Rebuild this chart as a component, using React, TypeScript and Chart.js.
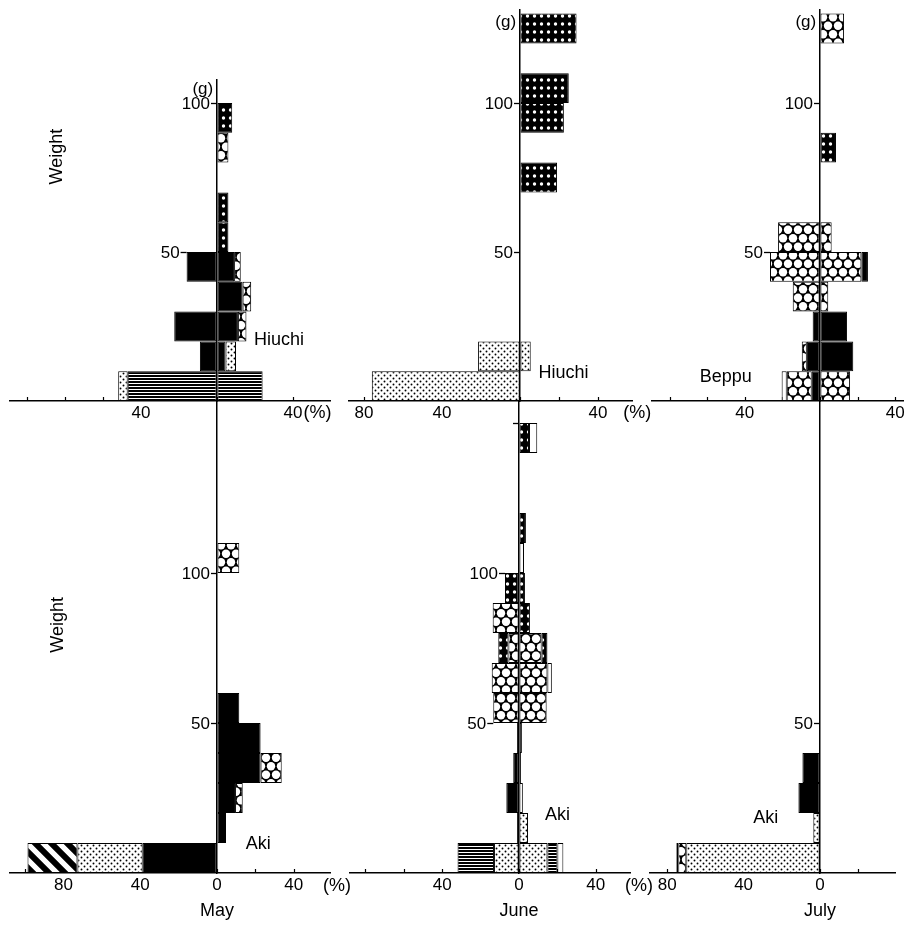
import React, { useEffect, useRef } from "react";
import { Chart, registerables } from "chart.js";

Chart.register(...registerables);

const FONT = "'Liberation Sans', Arial, Helvetica, sans-serif";
const TICK_SIZE = 17;
const LABEL_SIZE = 18;
const TICK_PAD = 2;
const AXIS_H = TICK_SIZE * 1.2 + TICK_PAD * 2;
const WEIGHT_TICK_LEN = 6;

// Weight classes are 10 g wide; index 0 = 0–10 g, index 1 = 10–20 g, ...
const CLASS_G = 10;

// Values: % of fish per weight class. "Left" layers are drawn to the left of 0.
// Layers of one side stack outward from the 0 line in the order listed.

// ---- May, Hiuchi
const mayHiuchiLeftLined = [47];
const mayHiuchiLeftBlack = [0, 9, 22.5, 0, 16];
const mayHiuchiLeftStipple = [5];
const mayHiuchiRightLined = [24];
const mayHiuchiRightBlack = [0, 4.5, 11, 13.5, 9];
const mayHiuchiRightStipple = [0, 5.5];
const mayHiuchiRightHoneycomb = [0, 0, 4.5, 4.5, 3.5, 0, 0, 0, 6];
const mayHiuchiRightSpotted = [0, 0, 0, 0, 0, 6, 6, 0, 0, 8];

// ---- June, Hiuchi
const juneHiuchiLeftStipple = [76, 21.5];
const juneHiuchiRightStipple = [0, 5.5];
const juneHiuchiRightSpotted = [0, 0, 0, 0, 0, 0, 0, 19, 0, 22.5, 25, 0, 29];

// ---- July, Beppu
const julyBeppuLeftBlack = [4.4, 7, 3.9];
const julyBeppuLeftHoneycomb = [13.3, 2.7, 0, 14.5, 26.6, 22.3];
const julyBeppuLeftWhite = [2.7];
const julyBeppuRightBlack = [0, 17.7, 14.4];
const julyBeppuRightHoneycomb = [16, 0, 0, 4.4, 22, 6.2, 0, 0, 0, 0, 0, 0, 12.8];
const julyBeppuRightBlackOuter = [0, 0, 0, 0, 3.5];
const julyBeppuRightSpotted = [0, 0, 0, 0, 0, 0, 0, 0, 8.5];

// ---- May, Aki
const mayAkiLeftBlack = [38.7];
const mayAkiLeftStipple = [34];
const mayAkiLeftHatched = [26];
const mayAkiRightBlack = [0, 4.7, 9.4, 22.7, 22.7, 11.6];
const mayAkiRightHoneycomb = [0, 0, 4, 11, 0, 0, 0, 0, 0, 0, 11.6];

// ---- June, Aki
const juneAkiLeftStipple = [13];
const juneAkiLeftLined = [19];
const juneAkiLeftBlack = [0, 1, 6.6, 3, 1];
const juneAkiLeftHoneycomb = [0, 0, 0, 0, 0, 13.4, 14.2, 5.5, 13.7];
const juneAkiLeftSpotted = [0, 0, 0, 0, 0, 0, 0, 5.3, 0, 7.3];
const juneAkiRightStipple = [14.8, 4.7];
const juneAkiRightLined = [5.2];
const juneAkiRightBlack = [0, 0, 0, 1, 1.5];
const juneAkiRightHoneycomb = [0, 0, 0, 0, 0, 14.4, 14.8, 11.8];
const juneAkiRightSpotted = [0, 0, 0, 0, 0, 0, 0, 3, 5.7, 3.1, 0, 3.6, 0, 0, 5.2];
const juneAkiRightWhite = [3.1, 0, 2, 0, 0, 0, 2.3, 0, 0, 0, 2.6, 0, 0, 0, 4.3];

// ---- July, Aki
const julyAkiLeftStipple = [70, 3.5];
const julyAkiLeftHoneycomb = [4.2];
const julyAkiLeftBlack = [1, 0, 11.3, 9.2];

// Axis tick labels
const topMayPctLabels = [-40, 40];
const topJunePctLabels = [-80, -40, 40];
const topJulyPctLabels = [-40, 40];
const bottomMayPctLabels = [-80, -40, 0, 40];
const bottomJunePctLabels = [-40, 0, 40];
const bottomJulyPctLabels = [-80, -40, 0];
const weightLabels = [50, 100];

type FillName = "black" | "white" | "stipple" | "lined" | "honeycomb" | "spotted" | "hatched";

function dot(g: CanvasRenderingContext2D, x: number, y: number, r: number) {
  g.beginPath();
  g.arc(x, y, r, 0, Math.PI * 2);
  g.fill();
}

function tile(w: number, h: number, paint: (g: CanvasRenderingContext2D) => void) {
  const c = document.createElement("canvas");
  c.width = w;
  c.height = h;
  const g = c.getContext("2d")!;
  paint(g);
  return g.createPattern(c, "repeat")!;
}

function makeFills(): Record<FillName, any> {
  return {
    black: "#000",
    white: "#fff",
    stipple: tile(6, 6, (g) => {
      g.fillStyle = "#fff";
      g.fillRect(0, 0, 6, 6);
      g.fillStyle = "#000";
      dot(g, 1.5, 1.5, 0.95);
      dot(g, 4.5, 4.5, 0.95);
    }),
    lined: tile(4, 3, (g) => {
      g.fillStyle = "#000";
      g.fillRect(0, 0, 4, 2);
      g.fillStyle = "#fff";
      g.fillRect(0, 2, 4, 1);
    }),
    honeycomb: tile(10, 17, (g) => {
      g.fillStyle = "#000";
      g.fillRect(0, 0, 10, 17);
      g.fillStyle = "#fff";
      dot(g, 5, 4.25, 4.2);
      dot(g, 0, 12.75, 4.2);
      dot(g, 10, 12.75, 4.2);
    }),
    spotted: tile(7, 8, (g) => {
      g.fillStyle = "#000";
      g.fillRect(0, 0, 7, 8);
      g.fillStyle = "#fff";
      dot(g, 3.5, 4, 1.7);
    }),
    hatched: tile(16, 16, (g) => {
      g.fillStyle = "#fff";
      g.fillRect(0, 0, 16, 16);
      g.strokeStyle = "#000";
      g.lineWidth = 6;
      g.beginPath();
      for (const c of [-16, 0, 16]) {
        g.moveTo(-4, -4 + c);
        g.lineTo(20, 20 + c);
      }
      g.stroke();
    }),
  };
}

interface Layer { fill: FillName; side: -1 | 1; values: number[] }
interface Note { text: string; x: number; y: number; align?: CanvasTextAlign; size?: number; vertical?: boolean }
interface Panel {
  id: string;
  area: { left: number; right: number; top: number; bottom: number };
  canvasBottom: number;
  zeroX: number;
  pxPerPct: number;
  pxPerG: number;
  classes: number;
  layers: Layer[];
  pctLabels: number[];
  weightTicks: number[];
  notes: Note[];
}

const L = -1 as const;
const R = 1 as const;

const panels: Panel[] = [
  {
    id: "may-hiuchi",
    area: { left: 10, right: 330, top: 80, bottom: 401 },
    canvasBottom: 440,
    zeroX: 217, pxPerPct: 1.9, pxPerG: 2.98, classes: 10,
    layers: [
      { fill: "lined", side: L, values: mayHiuchiLeftLined },
      { fill: "black", side: L, values: mayHiuchiLeftBlack },
      { fill: "stipple", side: L, values: mayHiuchiLeftStipple },
      { fill: "lined", side: R, values: mayHiuchiRightLined },
      { fill: "black", side: R, values: mayHiuchiRightBlack },
      { fill: "stipple", side: R, values: mayHiuchiRightStipple },
      { fill: "honeycomb", side: R, values: mayHiuchiRightHoneycomb },
      { fill: "spotted", side: R, values: mayHiuchiRightSpotted },
    ],
    pctLabels: topMayPctLabels,
    weightTicks: [50, 100],
    notes: [
      { text: "(g)", x: -2, y: 104.5, align: "right", size: TICK_SIZE },
      { text: "Hiuchi", x: 19.5, y: 20.3, align: "left" },
      { text: "(%)", x: 45.5, y: -4.2, align: "left" },
      { text: "Weight", x: -84, y: 82, vertical: true },
    ],
  },
  {
    id: "june-hiuchi",
    area: { left: 349, right: 632, top: 10, bottom: 401 },
    canvasBottom: 440,
    zeroX: 520, pxPerPct: 1.95, pxPerG: 2.98, classes: 13,
    layers: [
      { fill: "stipple", side: L, values: juneHiuchiLeftStipple },
      { fill: "stipple", side: R, values: juneHiuchiRightStipple },
      { fill: "spotted", side: R, values: juneHiuchiRightSpotted },
    ],
    pctLabels: topJunePctLabels,
    weightTicks: [50, 100],
    notes: [
      { text: "(g)", x: -2, y: 127, align: "right", size: TICK_SIZE },
      { text: "Hiuchi", x: 9.5, y: 9.3, align: "left" },
      { text: "(%)", x: 53, y: -4.2, align: "left" },
    ],
  },
  {
    id: "july-beppu",
    area: { left: 652, right: 903, top: 10, bottom: 401 },
    canvasBottom: 440,
    zeroX: 820, pxPerPct: 1.88, pxPerG: 2.98, classes: 13,
    layers: [
      { fill: "black", side: L, values: julyBeppuLeftBlack },
      { fill: "honeycomb", side: L, values: julyBeppuLeftHoneycomb },
      { fill: "white", side: L, values: julyBeppuLeftWhite },
      { fill: "black", side: R, values: julyBeppuRightBlack },
      { fill: "honeycomb", side: R, values: julyBeppuRightHoneycomb },
      { fill: "black", side: R, values: julyBeppuRightBlackOuter },
      { fill: "spotted", side: R, values: julyBeppuRightSpotted },
    ],
    pctLabels: topJulyPctLabels,
    weightTicks: [50, 100],
    notes: [
      { text: "(g)", x: -2, y: 127, align: "right", size: TICK_SIZE },
      { text: "Beppu", x: -64, y: 8, align: "left" },
    ],
  },
  {
    id: "may-aki",
    area: { left: 10, right: 330, top: 402, bottom: 873 },
    canvasBottom: 927,
    zeroX: 217, pxPerPct: 1.92, pxPerG: 3, classes: 11,
    layers: [
      { fill: "black", side: L, values: mayAkiLeftBlack },
      { fill: "stipple", side: L, values: mayAkiLeftStipple },
      { fill: "hatched", side: L, values: mayAkiLeftHatched },
      { fill: "black", side: R, values: mayAkiRightBlack },
      { fill: "honeycomb", side: R, values: mayAkiRightHoneycomb },
    ],
    pctLabels: bottomMayPctLabels,
    weightTicks: [50, 100],
    notes: [
      { text: "Weight", x: -83, y: 82.7, vertical: true },
      { text: "Aki", x: 15, y: 9.7, align: "left" },
      { text: "(%)", x: 55.2, y: -4.2, align: "left" },
      { text: "May", x: 0, y: -12.7 },
    ],
  },
  {
    id: "june-aki",
    area: { left: 350, right: 630, top: 402, bottom: 873 },
    canvasBottom: 927,
    zeroX: 519, pxPerPct: 1.92, pxPerG: 3, classes: 15,
    layers: [
      { fill: "stipple", side: L, values: juneAkiLeftStipple },
      { fill: "lined", side: L, values: juneAkiLeftLined },
      { fill: "black", side: L, values: juneAkiLeftBlack },
      { fill: "honeycomb", side: L, values: juneAkiLeftHoneycomb },
      { fill: "spotted", side: L, values: juneAkiLeftSpotted },
      { fill: "stipple", side: R, values: juneAkiRightStipple },
      { fill: "lined", side: R, values: juneAkiRightLined },
      { fill: "black", side: R, values: juneAkiRightBlack },
      { fill: "honeycomb", side: R, values: juneAkiRightHoneycomb },
      { fill: "spotted", side: R, values: juneAkiRightSpotted },
      { fill: "white", side: R, values: juneAkiRightWhite },
    ],
    pctLabels: bottomJunePctLabels,
    weightTicks: [50, 100, 150],
    notes: [
      { text: "Aki", x: 13.5, y: 19.3, align: "left" },
      { text: "(%)", x: 55.2, y: -4.2, align: "left" },
      { text: "June", x: 0, y: -12.7 },
    ],
  },
  {
    id: "july-aki",
    area: { left: 650, right: 895, top: 402, bottom: 873 },
    canvasBottom: 927,
    zeroX: 820, pxPerPct: 1.91, pxPerG: 3, classes: 4,
    layers: [
      { fill: "stipple", side: L, values: julyAkiLeftStipple },
      { fill: "honeycomb", side: L, values: julyAkiLeftHoneycomb },
      { fill: "black", side: L, values: julyAkiLeftBlack },
    ],
    pctLabels: bottomJulyPctLabels,
    weightTicks: [50],
    notes: [
      { text: "Aki", x: -35, y: 18.3, align: "left" },
      { text: "July", x: 0, y: -12.7 },
    ],
  },
];

const PAD_L = 14;
const PAD_R = 30;
const PAD_T = 14;

// short upward tick marks on the % axis
const pctTickMarks = {
  id: "pctTickMarks",
  beforeDatasetsDraw(chart: any) {
    const { ctx, chartArea } = chart;
    const xs = chart.scales.x;
    ctx.save();
    ctx.strokeStyle = "#000";
    ctx.lineWidth = 1.2;
    ctx.beginPath();
    for (const t of xs.ticks) {
      const px = Math.round(xs.getPixelForValue(t.value)) + 0.5;
      ctx.moveTo(px, chartArea.bottom);
      ctx.lineTo(px, chartArea.bottom - 4);
    }
    ctx.stroke();
    ctx.restore();
  },
};

// total stacked % on the left side for one weight class
function leftTotal(p: Panel, cls: number) {
  if (cls < 0) return 0;
  return p.layers
    .filter((l) => l.side === L)
    .reduce((s, l) => s + (l.values[cls] ?? 0), 0);
}

// Weight axis on the 0 % line: each tick sits just outside the bars that meet
// at that weight, with its label to the left of the tick.
function weightAxisTicks(p: Panel) {
  return {
    id: "weightAxisTicks",
    afterDatasetsDraw(chart: any) {
      const { ctx } = chart;
      const { x, y } = chart.scales;
      ctx.save();
      ctx.strokeStyle = "#000";
      ctx.fillStyle = "#000";
      ctx.lineWidth = 1.3;
      ctx.font = `${TICK_SIZE}px ${FONT}`;
      ctx.textAlign = "right";
      ctx.textBaseline = "middle";
      for (const t of y.ticks) {
        const upper = Math.round(t.value / CLASS_G);
        const clear = Math.max(leftTotal(p, upper - 1), leftTotal(p, upper));
        const x0 = x.getPixelForValue(-clear);
        const py = Math.round(y.getPixelForValue(t.value)) + 0.5;
        ctx.beginPath();
        ctx.moveTo(x0, py);
        ctx.lineTo(x0 - WEIGHT_TICK_LEN, py);
        ctx.stroke();
        if (weightLabels.includes(t.value)) {
          ctx.fillText(String(t.value), x0 - WEIGHT_TICK_LEN - 1, py + 0.5);
        }
      }
      ctx.restore();
    },
  };
}

function notesPlugin(notes: Note[]) {
  return {
    id: "notes",
    afterDraw(chart: any) {
      const { ctx } = chart;
      const { x, y } = chart.scales;
      ctx.save();
      ctx.fillStyle = "#000";
      ctx.textBaseline = "middle";
      for (const n of notes) {
        ctx.font = `${n.size ?? LABEL_SIZE}px ${FONT}`;
        const px = x.getPixelForValue(n.x);
        const py = y.getPixelForValue(n.y);
        if (n.vertical) {
          ctx.save();
          ctx.translate(px, py);
          ctx.rotate(-Math.PI / 2);
          ctx.textAlign = "center";
          ctx.fillText(n.text, 0, 0);
          ctx.restore();
        } else {
          ctx.textAlign = n.align ?? "center";
          ctx.fillText(n.text, px, py);
        }
      }
      ctx.restore();
    },
  };
}

function PanelChart({ p }: { p: Panel }) {
  const ref = useRef<HTMLCanvasElement>(null);
  const cLeft = p.area.left - PAD_L;
  const cTop = p.area.top - PAD_T;
  const cW = p.area.right - p.area.left + PAD_L + PAD_R;
  const cH = p.canvasBottom - cTop;
  const padB = cH - (p.area.bottom - p.area.top) - PAD_T - AXIS_H;

  useEffect(() => {
    const fills = makeFills();
    const xMin = (p.area.left - p.zeroX) / p.pxPerPct;
    const xMax = (p.area.right - p.zeroX) / p.pxPerPct;
    const yMax = (p.area.bottom - p.area.top) / p.pxPerG;

    const datasets = p.layers.map((layer) => ({
      data: Array.from({ length: p.classes }, (_, i) => {
        const v = layer.values[i] ?? 0;
        return { y: i * CLASS_G + CLASS_G / 2, x: v > 0 ? layer.side * v : null };
      }),
      backgroundColor: fills[layer.fill],
      borderColor: "#000",
      borderWidth: 1,
      borderSkipped: false,
      inflateAmount: 0,
      barPercentage: 1,
      categoryPercentage: 1,
      stack: "classes",
    }));

    const tickFont = { family: FONT, size: TICK_SIZE };

    const chart = new Chart(ref.current!, {
      type: "bar",
      data: { datasets },
      options: {
        indexAxis: "y",
        responsive: false,
        animation: false,
        devicePixelRatio: 1,
        events: [],
        layout: { padding: { left: PAD_L, right: PAD_R, top: PAD_T, bottom: padB } },
        plugins: { legend: { display: false }, tooltip: { enabled: false } },
        scales: {
          x: {
            type: "linear",
            position: "bottom",
            min: xMin,
            max: xMax,
            stacked: true,
            afterBuildTicks: (s: any) => {
              const ticks = [];
              for (let v = Math.ceil(xMin / 20) * 20; v <= xMax; v += 20) ticks.push({ value: v });
              s.ticks = ticks;
            },
            ticks: {
              autoSkip: false,
              maxRotation: 0,
              padding: TICK_PAD,
              color: "#000",
              font: tickFont,
              callback: (v: any) => (p.pctLabels.includes(v) ? String(Math.abs(v)) : ""),
            },
            grid: { display: true, drawOnChartArea: false, drawTicks: false, color: "#000" },
            border: { display: true, color: "#000", width: 1.5, z: 1 },
          },
          y: {
            type: "linear",
            position: { x: 0 },
            min: 0,
            max: yMax,
            stacked: true,
            offset: false,
            afterBuildTicks: (s: any) => {
              s.ticks = p.weightTicks.map((v) => ({ value: v }));
            },
            ticks: { display: false },
            grid: { display: false, offset: false },
            border: { display: true, color: "#000", width: 1.5, z: 1 },
          },
        },
      },
      plugins: [pctTickMarks, weightAxisTicks(p), notesPlugin(p.notes)],
    } as any);
    return () => chart.destroy();
  }, [p]);

  return (
    <canvas
      ref={ref}
      width={cW}
      height={cH}
      style={{ position: "absolute", left: cLeft, top: cTop, width: cW, height: cH }}
    />
  );
}

export default function App() {
  return (
    <div
      style={{
        position: "absolute",
        left: 0,
        top: 0,
        width: 905,
        height: 927,
        overflow: "hidden",
        background: "#fff",
      }}
    >
      {panels.map((p) => (
        <PanelChart key={p.id} p={p} />
      ))}
    </div>
  );
}
